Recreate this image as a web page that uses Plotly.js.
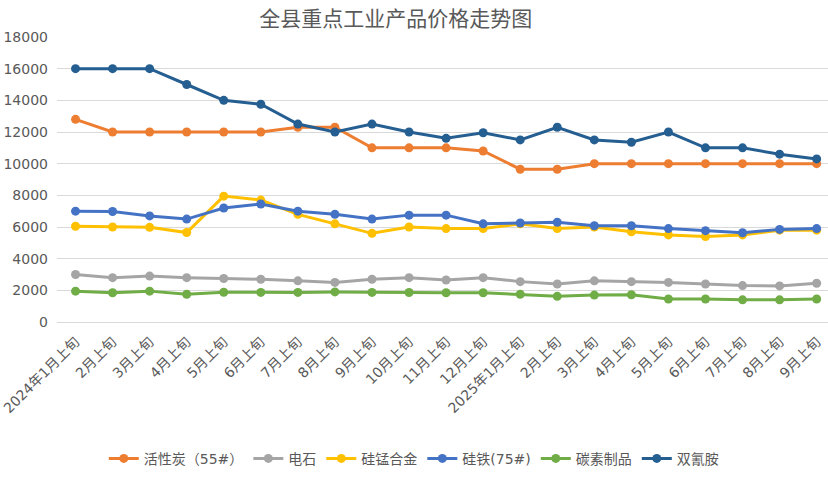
<!DOCTYPE html>
<html>
<head>
<meta charset="utf-8">
<script src="https://cdn.plot.ly/plotly-3.0.1.min.js"></script>
<style>html,body{margin:0;padding:0;background:#fff;}#chart{width:828px;height:479px;}</style>
</head>
<body>
<div id="chart"></div>
<script>
const categories = ['2024年1月上旬','2月上旬','3月上旬','4月上旬','5月上旬','6月上旬','7月上旬','8月上旬','9月上旬','10月上旬','11月上旬','12月上旬','2025年1月上旬','2月上旬','3月上旬','4月上旬','5月上旬','6月上旬','7月上旬','8月上旬','9月上旬'];
const seriesNames = ['活性炭（55#）','电石','硅锰合金','硅铁(75#)','碳素制品','双氰胺'];
const activatedCarbon = [12800,12000,12000,12000,12000,12000,12300,12300,11000,11000,11000,10800,9650,9650,10000,10000,10000,10000,10000,10000,10000];
const calciumCarbide = [3000,2800,2900,2800,2750,2700,2600,2500,2700,2800,2650,2800,2550,2400,2600,2550,2500,2400,2300,2280,2450];
const siliconManganese = [6050,6000,5980,5650,7950,7700,6800,6200,5600,6000,5900,5900,6200,5900,6000,5700,5500,5400,5500,5800,5800];
const ferrosilicon = [7000,6980,6700,6500,7200,7450,7000,6800,6500,6750,6750,6200,6250,6300,6080,6080,5900,5770,5640,5850,5900];
const carbonProducts = [1950,1850,1950,1750,1880,1870,1870,1900,1870,1860,1850,1850,1750,1620,1700,1720,1450,1450,1400,1400,1450];
const dicyandiamide = [16000,16000,16000,15000,14000,13750,12500,12000,12500,12000,11600,11950,11500,12300,11500,11350,12000,11000,11000,10600,10300];
const yTicks = [0,2000,4000,6000,8000,10000,12000,14000,16000,18000];

const colors = ['#ED7D31','#A5A5A5','#FFC000','#4472C4','#70AD47','#255E91'];
const allValues = [activatedCarbon, calciumCarbide, siliconManganese, ferrosilicon, carbonProducts, dicyandiamide];
const xIdx = categories.map((_, i) => i);

const traces = allValues.map((vals, k) => ({
  type: 'scatter',
  mode: 'lines+markers',
  name: seriesNames[k],
  x: xIdx,
  y: vals,
  line: {color: colors[k], width: 3},
  marker: {color: colors[k], size: 9},
  hoverinfo: 'none'
}));

const fontFam = 'DejaVu Sans, Noto Sans CJK SC, sans-serif';
const layout = {
  width: 828, height: 479,
  paper_bgcolor: '#ffffff', plot_bgcolor: '#ffffff',
  margin: {l: 57, r: 0, t: 37, b: 157, autoexpand: false},
  showlegend: true,
  title: {
    text: '全县重点工业产品价格走势图',
    font: {family: 'Noto Sans CJK SC, sans-serif', size: 21, color: '#595959'},
    xref: 'container', x: 0.478, xanchor: 'center',
    yref: 'container', y: 0.962, yanchor: 'middle'
  },
  xaxis: {
    range: [-0.5, 20.306],
    tickvals: xIdx,
    ticktext: categories,
    tickangle: -45,
    tickfont: {family: fontFam, size: 14, color: '#595959'},
    showgrid: false,
    zeroline: false,
    showline: false,
    ticks: '',
    ticklabelstandoff: 8,
    automargin: false,
    fixedrange: true
  },
  yaxis: {
    range: [0, 18000],
    tickvals: yTicks,
    ticktext: yTicks.map(String),
    tickfont: {family: fontFam, size: 14, color: '#595959'},
    gridcolor: '#D9D9D9', gridwidth: 1,
    zeroline: true, zerolinecolor: '#D9D9D9', zerolinewidth: 1,
    showline: false,
    ticks: '',
    ticklabelstandoff: 8,
    automargin: false,
    fixedrange: true
  },
  legend: {
    orientation: 'h',
    x: 0.4634, xanchor: 'center',
    y: -0.48, yanchor: 'middle',
    font: {family: fontFam, size: 14, color: '#595959'},
    itemwidth: 30,
    traceorder: 'normal'
  }
};

Plotly.newPlot('chart', traces, layout, {displayModeBar: false, staticPlot: true});
</script>
</body>
</html>
